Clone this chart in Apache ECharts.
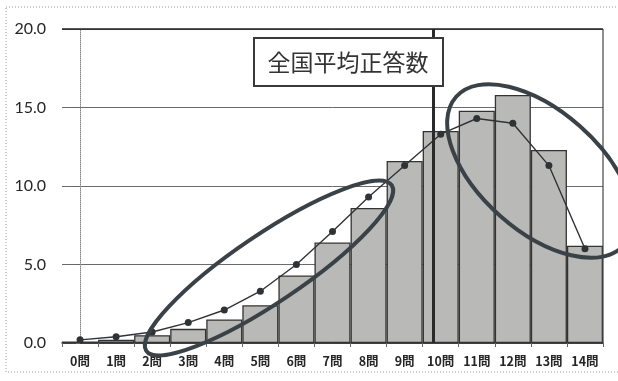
<!DOCTYPE html>
<html>
<head>
<meta charset="utf-8">
<script src="https://cdn.jsdelivr.net/npm/echarts@6/dist/echarts.min.js"></script>
<style>
  html, body { margin: 0; padding: 0; background: #fff; }
  #chart { width: 618px; height: 381px; }
</style>
</head>
<body>
<div id="chart"></div>
<script>
// question counts (number correct)
var categories = ['0問','1問','2問','3問','4問','5問','6問','7問','8問','9問','10問','11問','12問','13問','14問'];
// school distribution (bars, %)
var barValues = [0.1, 0.2, 0.5, 0.9, 1.5, 2.4, 4.3, 6.4, 8.6, 11.6, 13.5, 14.8, 15.8, 12.3, 6.2];
// national distribution (line, %)
var lineValues = [0.2, 0.4, 0.7, 1.3, 2.1, 3.3, 5.0, 7.1, 9.3, 11.3, 13.3, 14.3, 14.0, 11.3, 6.0];
var yTicks = [0, 5, 10, 15, 20];
var nationalAverage = 9.8;
var boxLabel = '全国平均正答数';

var chart = echarts.init(document.getElementById('chart'));
var ink = '#303336';

chart.setOption({
  animation: false,
  grid: { left: 62, right: 15, top: 29, bottom: 38 },
  xAxis: [{
    type: 'category',
    data: categories,
    axisLine: { lineStyle: { color: ink, width: 1.5 } },
    axisTick: { show: true, length: 4, lineStyle: { color: '#666' } },
    axisLabel: { color: '#262626', fontSize: 12.5, fontWeight: 'bold', fontFamily: 'Noto Sans CJK JP', margin: 12 }
  }, {
    type: 'value', min: -0.5, max: 14.5, show: false
  }],
  yAxis: {
    type: 'value',
    min: yTicks[0], max: yTicks[yTicks.length - 1], interval: 5,
    axisLine: { show: true, lineStyle: { color: '#888', type: 'dotted' } },
    axisTick: { show: true, length: 4, lineStyle: { color: '#666' } },
    axisLabel: {
      color: '#262626', fontSize: 16, fontFamily: 'Lato', margin: 16,
      formatter: function (v) { return v.toFixed(1); }
    },
    splitLine: { lineStyle: { color: '#6a6a6a', width: 1 } }
  },
  series: [{
    type: 'bar',
    data: barValues,
    barCategoryGap: 0,
    itemStyle: { color: '#b9bab8', borderColor: '#333', borderWidth: 1.3 },
    z: 2
  }, {
    type: 'line',
    data: lineValues,
    symbol: 'circle',
    symbolSize: 7,
    lineStyle: { color: ink, width: 1.4 },
    itemStyle: { color: ink },
    z: 4
  }, {
    type: 'scatter',
    xAxisIndex: 1,
    data: [[nationalAverage, 0]],
    symbolSize: 0,
    silent: true,
    markLine: {
      symbol: 'none',
      silent: true,
      label: { show: false },
      lineStyle: { color: '#2a2a2a', width: 3, type: 'solid' },
      data: [{ xAxis: nationalAverage }]
    },
    z: 5
  }],
  graphic: [
    // outer dotted frame
    { type: 'rect', shape: { x: 6, y: 7, width: 620, height: 365 }, style: { fill: 'none', stroke: '#999', lineWidth: 1, lineDash: [1, 2] }, z: 0 },
    // top and right plot border
    { type: 'line', shape: { x1: 62, y1: 29, x2: 603, y2: 29 }, style: { stroke: '#222', lineWidth: 1.5 }, z: 10 },
    { type: 'line', shape: { x1: 603, y1: 29, x2: 603, y2: 343 }, style: { stroke: '#444', lineWidth: 1.2 }, z: 10 },
    // label box
    { type: 'rect', shape: { x: 254, y: 38, width: 189, height: 48 }, style: { fill: '#fff', stroke: '#3a3a3a', lineWidth: 2 }, z: 20 },
    { type: 'text', x: 348, y: 62, style: { text: boxLabel, fill: '#333', font: '23px "Noto Sans CJK JP"', textAlign: 'center', textVerticalAlign: 'middle' }, z: 21 },
    // hand-drawn ellipses
    { type: 'ellipse', x: 269, y: 268, rotation: 34 * Math.PI / 180, shape: { cx: 0, cy: 0, rx: 148, ry: 34 }, style: { fill: 'none', stroke: '#3b4247', lineWidth: 4 }, z: 30 },
    { type: 'ellipse', x: 540, y: 171, rotation: -41.5 * Math.PI / 180, shape: { cx: 0, cy: 0, rx: 112, ry: 60 }, style: { fill: 'none', stroke: '#3b4247', lineWidth: 4 }, z: 30 }
  ]
});
</script>
</body>
</html>
